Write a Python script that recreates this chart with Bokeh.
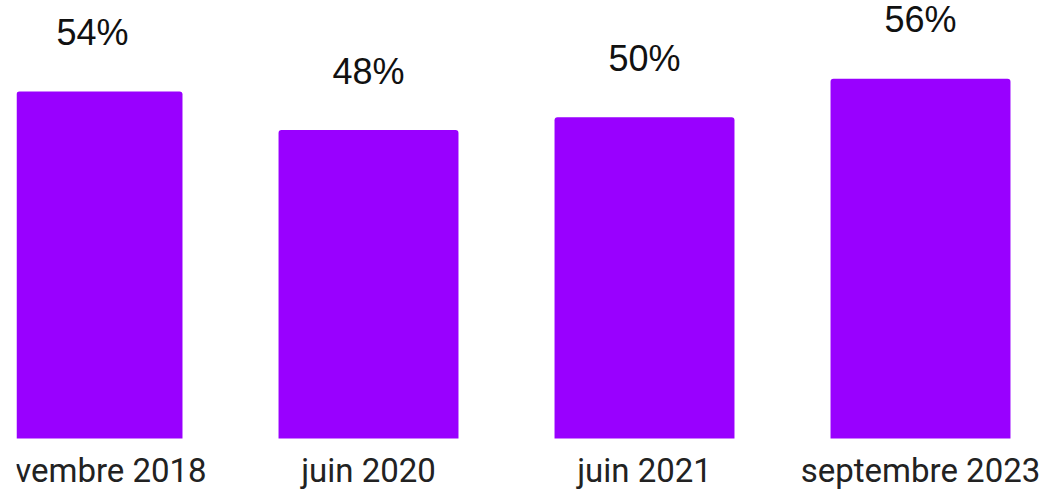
from bokeh.plotting import figure
from bokeh.models import Range1d
from bokeh.core.properties import value
from bokeh.embed import file_html
from bokeh.resources import INLINE

categories = ["novembre 2018", "juin 2020", "juin 2021", "septembre 2023"]
values = [54, 48, 50, 56]
value_labels = ["54%", "48%", "50%", "56%"]

idx = list(range(len(categories)))
baseline = [0] * len(categories)

p = figure(width=1046, height=492, output_backend="svg", toolbar_location=None,
           x_range=Range1d(-0.2754, 3.4565), y_range=Range1d(-8.405, 68.17),
           min_border_left=16, min_border_right=0, min_border_top=0, min_border_bottom=0,
           x_axis_location=None, y_axis_location=None)
p.outline_line_color = None
p.xgrid.grid_line_color = None
p.ygrid.grid_line_color = None
p.background_fill_color = "white"
p.border_fill_color = "white"

p.vbar(x=idx, top=values, bottom=0, width=0.652, fill_color="#9900FF",
       line_color=None, border_radius=(3, 3, 0, 0))

# value labels above bars
p.text(x=idx, y=values, text=value_labels, y_offset=-59, text_align="center",
       text_baseline="alphabetic", text_font=value("Liberation Sans"),
       text_font_size="36px", text_color="#111111")

# category labels below bars (clipped by the frame like the reference)
p.text(x=idx, y=baseline, text=categories, y_offset=32, text_align="center",
       text_baseline="alphabetic", text_font=value("Roboto"),
       text_font_size="33px", text_color="#222222")

open("out.html", "w").write(file_html(p, INLINE))
